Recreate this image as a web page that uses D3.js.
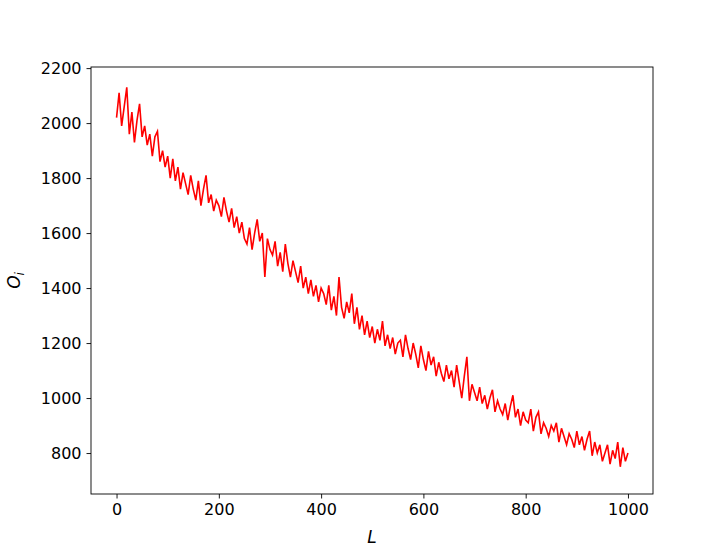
<!DOCTYPE html>
<html><head><meta charset="utf-8">
<script src="https://d3js.org/d3.v7.min.js"></script>
<style>body{margin:0;background:#fff}text{font-family:"DejaVu Sans",sans-serif}</style>
</head><body><svg id="c" width="726" height="555"></svg>
<script>
const xTicks=[0,200,400,600,800,1000];
const yTicks=[800,1000,1200,1400,1600,1800,2000,2200];
const values=[2020,2110,1990,2060,2130,1960,2040,1930,2010,2070,1950,
1990,1920,1960,1880,1950,1970,1860,1900,1840,1880,
1800,1870,1790,1840,1760,1820,1780,1740,1810,1760,
1720,1790,1700,1760,1810,1710,1740,1680,1720,1700,
1660,1730,1680,1640,1690,1620,1660,1600,1640,1580,
1560,1620,1540,1600,1650,1570,1600,1440,1580,1540,
1520,1570,1480,1530,1460,1560,1490,1440,1500,1460,
1420,1480,1400,1440,1380,1430,1370,1410,1350,1400,
1380,1340,1410,1320,1370,1300,1440,1330,1290,1350,
1310,1380,1270,1330,1250,1300,1230,1280,1220,1260,
1200,1250,1210,1280,1190,1230,1180,1220,1160,1200,
1210,1150,1230,1180,1140,1200,1160,1110,1190,1140,
1100,1170,1120,1150,1080,1130,1090,1060,1120,1070,
1100,1040,1120,1060,1000,1080,1150,990,1050,1020,
990,1040,980,1010,960,1000,1030,950,990,960,
940,980,920,970,1010,930,960,900,950,920,
910,960,880,930,950,870,910,890,860,900,
880,910,840,890,860,830,870,850,820,880,
830,860,810,850,880,790,840,800,830,770,
800,830,760,810,780,840,750,820,770,800];
const Ls=values.map((v,i)=>i*5);
const svg=d3.select("#c");
const L=91,R=653,T=67,B=494;
const x=d3.scaleLinear().domain([-49.95,1048.95]).range([L,R]);
const y=d3.scaleLinear().domain([651,2204]).range([B,T]);
svg.append("path").datum(values).attr("fill","none").attr("stroke","red").attr("stroke-width",1.6)
 .attr("d",d3.line().x((d,i)=>x(Ls[i])).y(d=>y(d)));
const gx=svg.append("g").attr("transform",`translate(0,${B})`).call(d3.axisBottom(x).tickValues(xTicks).tickFormat(d3.format("d")).tickSize(4.5).tickPadding(5));
const gy=svg.append("g").attr("transform",`translate(${L},0)`).call(d3.axisLeft(y).tickValues(yTicks).tickFormat(d3.format("d")).tickSize(4.5).tickPadding(5));
[gx,gy].forEach(g=>{g.selectAll("text").attr("font-size",16).attr("fill","#000").style("font-family","DejaVu Sans");g.select(".domain").remove();g.selectAll("line").attr("stroke","#000").attr("stroke-width",0.9);});
svg.append("rect").attr("x",L).attr("y",T).attr("width",R-L).attr("height",B-T).attr("fill","none").attr("stroke","#000").attr("stroke-width",0.9);
svg.append("text").attr("x",(L+R)/2).attr("y",543).attr("text-anchor","middle").attr("font-size",17).attr("font-style","italic").text("L");
const yl=svg.append("text").attr("transform",`translate(20,${(T+B)/2}) rotate(-90)`).attr("text-anchor","middle").attr("font-size",17).attr("font-style","italic");
yl.append("tspan").text("O");
yl.append("tspan").attr("font-size",12).attr("dy",4).text("i");
</script></body></html>
